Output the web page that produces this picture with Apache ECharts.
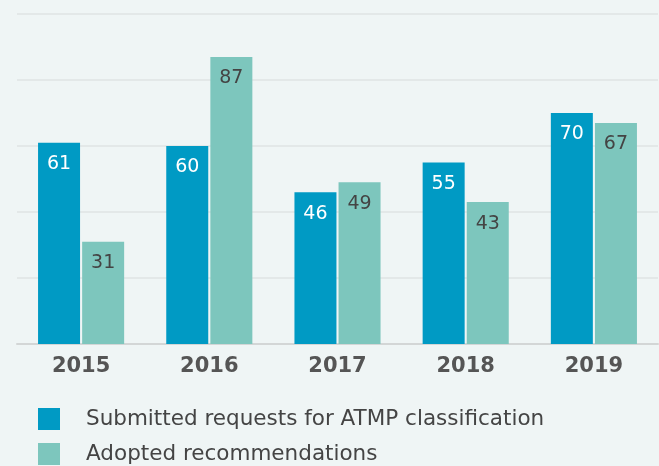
<!DOCTYPE html>
<html>
<head>
<meta charset="utf-8">
<script src="https://cdn.jsdelivr.net/npm/echarts@6/dist/echarts.min.js"></script>
<style>
  html, body { margin: 0; padding: 0; background: #eff5f5; }
  #chart { width: 659px; height: 466px; }
</style>
</head>
<body>
<div id="chart"></div>
<script>
const years = ['2015', '2016', '2017', '2018', '2019']
const submitted = [61, 60, 46, 55, 70]
const adopted = [31, 87, 49, 43, 67]
const seriesNames = ['Submitted requests for ATMP classification', 'Adopted recommendations']

const chart = echarts.init(document.getElementById('chart'))
const font = '"DejaVu Sans", Verdana, sans-serif'

chart.setOption({
  backgroundColor: '#eff5f5',
  textStyle: { fontFamily: font },
  animation: false,
  grid: { left: 17, right: 1, top: 14, bottom: 122 },
  legend: {
    orient: 'vertical',
    left: 38,
    top: 408,
    padding: 0,
    itemWidth: 22,
    itemHeight: 22,
    itemGap: 13,
    icon: 'rect',
    data: seriesNames,
    textStyle: { fontSize: 21.5, color: '#444', padding: [1, 0, 0, 21], fontFamily: font }
  },
  xAxis: {
    type: 'category',
    data: years,
    axisTick: { show: false },
    axisLine: { lineStyle: { color: '#d3d6d6', width: 2 } },
    axisLabel: { fontSize: 21, fontWeight: 'bold', color: '#555', margin: 12, fontFamily: font }
  },
  yAxis: {
    type: 'value',
    min: 0,
    max: 100,
    interval: 20,
    axisLabel: { show: false },
    axisLine: { show: false },
    splitLine: { lineStyle: { color: '#dfe3e3', width: 1.5 } }
  },
  series: [
    {
      name: seriesNames[0],
      type: 'bar',
      data: submitted,
      barWidth: 42,
      barGap: '5%',
      itemStyle: { color: '#009ac4' },
      label: { show: true, position: 'insideTop', distance: 12, fontSize: 19, color: '#fff', fontFamily: font }
    },
    {
      name: seriesNames[1],
      type: 'bar',
      data: adopted,
      barWidth: 42,
      itemStyle: { color: '#7dc6bd' },
      label: { show: true, position: 'insideTop', distance: 12, fontSize: 19, color: '#444', fontFamily: font }
    }
  ]
})
</script>
</body>
</html>
